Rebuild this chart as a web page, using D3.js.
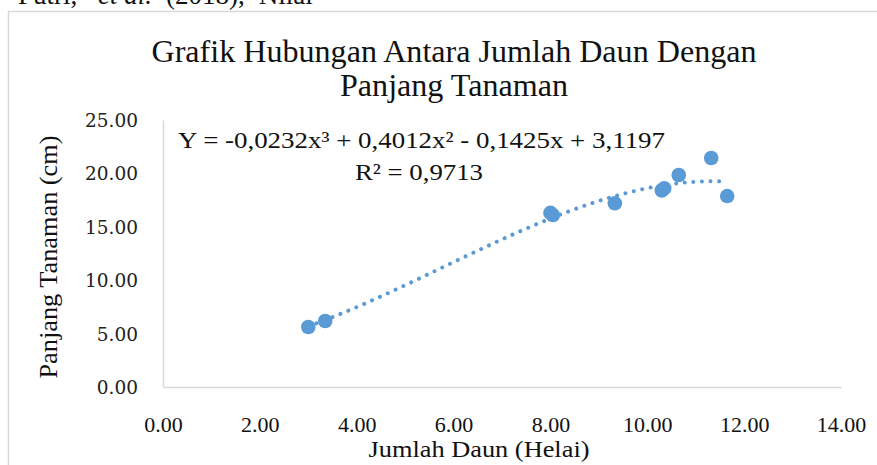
<!DOCTYPE html>
<html><head><meta charset="utf-8">
<script src="https://cdn.jsdelivr.net/npm/d3@7"></script>
<style>body{margin:0;background:#fff;} svg{display:block;}</style>
</head><body>
<svg id="c" width="877" height="465"></svg>
<script>
const jumlahDaun = [3.0, 3.35, 8.0, 8.05, 9.33, 10.3, 10.35, 10.65, 11.32, 11.65];
const panjangTanaman = [5.62, 6.18, 16.3, 16.1, 17.2, 18.4, 18.6, 19.85, 21.44, 17.88];
const trendCoef = [3.1197, -0.1425, 0.4012, -0.0232]; // c0 + c1 x + c2 x^2 + c3 x^3
const xTicks = [0, 2, 4, 6, 8, 10, 12, 14];
const yTicks = [0, 5, 10, 15, 20, 25];
const titleLines = ["Grafik Hubungan Antara Jumlah Daun Dengan", "Panjang Tanaman"];
const equationText = "Y = -0,0232x³ + 0,4012x² - 0,1425x + 3,1197";
const r2Text = "R² = 0,9713";
const xTitle = "Jumlah Daun (Helai)";
const yTitle = "Panjang Tanaman (cm)";

const svg = d3.select("#c");
const serif = "'Liberation Serif','Times New Roman',serif";
const blue = "#5b9bd5";

// partial header text from the page above (cut off in the reference too)
const hdr = svg.append("text").attr("x", 18).attr("y", 4)
  .attr("font-family", serif).attr("font-size", 27).attr("fill", "#111");
hdr.append("tspan").text("Putri, ");
hdr.append("tspan").attr("font-style", "italic").attr("dx", 14).text("et  al.");
hdr.append("tspan").attr("dx", 14).text("(2018),");
hdr.append("tspan").attr("dx", 14).text("Nilai");

// chart border
svg.append("rect").attr("x", 8.5).attr("y", 11.5).attr("width", 900).attr("height", 500)
  .attr("fill", "none").attr("stroke", "#d9d9d9").attr("stroke-width", 1.5);

const x = d3.scaleLinear().domain([0, 14]).range([163, 841]);
const y = d3.scaleLinear().domain([0, 25]).range([387, 120]);

// axes
const xAxis = svg.append("g").attr("transform", `translate(0,${y(0)})`)
  .call(d3.axisBottom(x).tickValues(xTicks).tickSize(0).tickFormat(d3.format(".2f")));
xAxis.select(".domain").attr("stroke", "#d9d9d9").attr("stroke-width", 1.5);
xAxis.selectAll("text").attr("font-family", serif).attr("font-size", 22)
  .attr("fill", "#111").attr("dy", null).attr("y", 45);

const yAxis = svg.append("g").attr("transform", `translate(${x(0)},0)`)
  .call(d3.axisLeft(y).tickValues(yTicks).tickSize(0).tickFormat(d3.format(".2f")));
yAxis.select(".domain").attr("stroke", "#d9d9d9").attr("stroke-width", 1.5);
yAxis.selectAll("text").attr("font-family", "'DejaVu Serif',serif").attr("font-size", 18.5)
  .attr("fill", "#222").attr("x", -25).attr("dy", "0.35em");

// trendline
const poly = v => trendCoef.reduce((s, c, i) => s + c * Math.pow(v, i), 0);
const xs = d3.range(d3.min(jumlahDaun), d3.max(jumlahDaun) + 0.001, 0.05);
svg.append("path").datum(xs)
  .attr("d", d3.line().x(d => x(d)).y(d => y(poly(d))))
  .attr("fill", "none").attr("stroke", blue).attr("stroke-width", 4)
  .attr("stroke-linecap", "round").attr("stroke-dasharray", "0.01 8.6");

// points
svg.append("g").selectAll("circle").data(jumlahDaun).join("circle")
  .attr("cx", d => x(d)).attr("cy", (d, i) => y(panjangTanaman[i]))
  .attr("r", 7.3).attr("fill", blue);

// title
function fitText(sel, len) { sel.attr("textLength", len).attr("lengthAdjust", "spacingAndGlyphs"); }
const t1 = svg.append("text").attr("x", 454).attr("y", 62).attr("text-anchor", "middle")
  .attr("font-family", serif).attr("font-size", 32).attr("fill", "#111").text(titleLines[0]);
fitText(t1, 605);
const t2 = svg.append("text").attr("x", 454).attr("y", 96).attr("text-anchor", "middle")
  .attr("font-family", serif).attr("font-size", 32).attr("fill", "#111").text(titleLines[1]);
fitText(t2, 228);

// equation
const eq = svg.append("text").attr("x", 178).attr("y", 148)
  .attr("font-family", serif).attr("font-size", 23).attr("fill", "#111").text(equationText);
fitText(eq, 487);
const r2 = svg.append("text").attr("x", 355).attr("y", 180)
  .attr("font-family", serif).attr("font-size", 23).attr("fill", "#111").text(r2Text);
fitText(r2, 128);

// axis titles
const xt = svg.append("text").attr("x", 479).attr("y", 457).attr("text-anchor", "middle")
  .attr("font-family", serif).attr("font-size", 24).attr("fill", "#111").text(xTitle);
fitText(xt, 221);
const yt = svg.append("text").attr("transform", "translate(57,257) rotate(-90)")
  .attr("text-anchor", "middle")
  .attr("font-family", serif).attr("font-size", 25).attr("fill", "#111").text(yTitle);
fitText(yt, 243);
</script>
</body></html>
